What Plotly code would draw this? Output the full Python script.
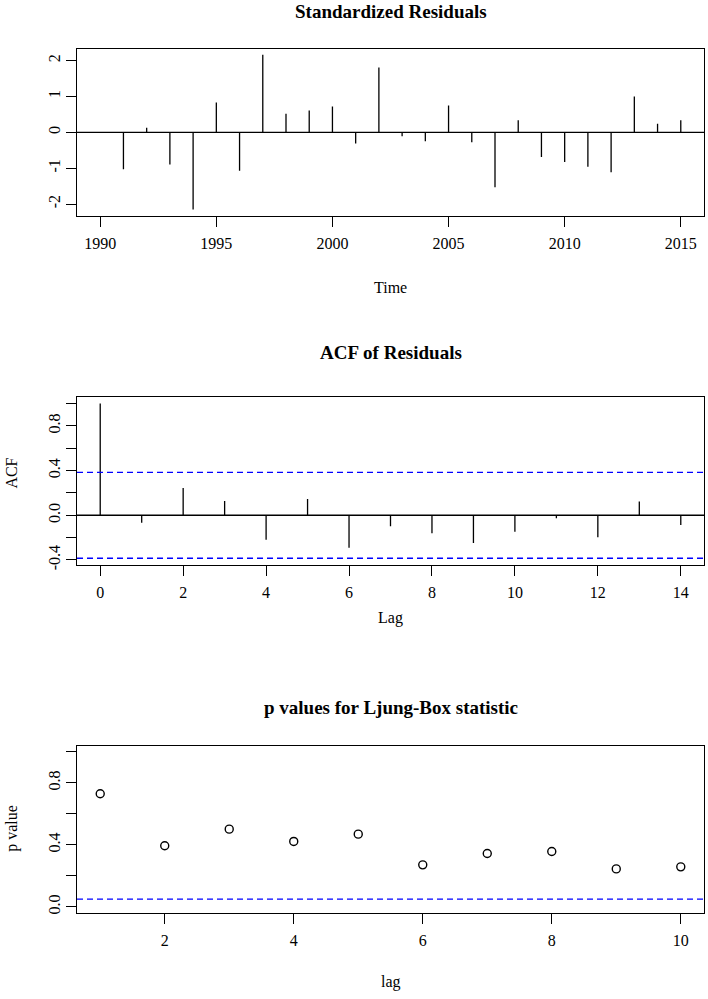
import numpy as np
import plotly.graph_objects as go

# ---------------- data ----------------
years = list(range(1990, 2016))
std_resid = [0.01, -1.03, 0.13, -0.90, -2.15, 0.83, -1.07, 2.16, 0.52, 0.61,
             0.72, -0.31, 1.81, -0.11, -0.25, 0.75, -0.28, -1.53, 0.34, -0.69,
             -0.83, -0.96, -1.11, 1.00, 0.24, 0.34]

acf_lags = list(range(0, 15))
acf_vals = [1.0, -0.068, 0.243, 0.127, -0.219, 0.145, -0.29, -0.098, -0.16,
            -0.249, -0.148, -0.027, -0.196, 0.124, -0.086]

lb_lags = list(range(1, 11))
lb_pvals = [0.729, 0.394, 0.501, 0.422, 0.469, 0.271, 0.344, 0.357, 0.245, 0.258]

n_obs = len(years)
clim = 1.96 / np.sqrt(n_obs)
p_thresh = 0.05

x_ticks_top = [1990, 1995, 2000, 2005, 2010, 2015]
y_ticks_top = [-2, -1, 0, 1, 2]
y_text_top = ["-2", "-1", "0", "1", "2"]
x_ticks_mid = [0, 2, 4, 6, 8, 10, 12, 14]
y_ticks_mid = [-0.4, -0.2, 0.0, 0.2, 0.4, 0.6, 0.8, 1.0]
y_text_mid = ["-0.4", "", "0.0", "", "0.4", "", "0.8", ""]
x_ticks_bot = [2, 4, 6, 8, 10]
y_ticks_bot = [0.0, 0.2, 0.4, 0.6, 0.8, 1.0]
y_text_bot = ["0.0", "", "0.4", "", "0.8", ""]

# ---------------- layout helpers ----------------
W, H = 708, 999
FONT = "Liberation Serif"
BLUE = "#0000FF"


def fy(px):
    return 1 - px / H


def fx(px):
    return px / W


def stems(xs, ys):
    X, Y = [], []
    for a, b in zip(xs, ys):
        X += [a, a, None]
        Y += [0, b, None]
    return X, Y


fig = go.Figure()

# top panel
sx, sy = stems(years, std_resid)
fig.add_trace(go.Scatter(x=sx, y=sy, mode="lines", line=dict(color="black", width=1.3),
                         xaxis="x", yaxis="y", showlegend=False, hoverinfo="skip"))
# middle panel
ax_, ay_ = stems(acf_lags, acf_vals)
fig.add_trace(go.Scatter(x=ax_, y=ay_, mode="lines", line=dict(color="black", width=1.3),
                         xaxis="x2", yaxis="y2", showlegend=False, hoverinfo="skip"))
# bottom panel
fig.add_trace(go.Scatter(x=lb_lags, y=lb_pvals, mode="markers",
                         marker=dict(symbol="circle-open", size=8, color="black",
                                     line=dict(width=1.4, color="black")),
                         xaxis="x3", yaxis="y3", showlegend=False))

axis_common = dict(showline=True, mirror=True, linecolor="black", linewidth=1,
                   ticks="outside", ticklen=10, tickwidth=1, tickcolor="black",
                   showgrid=False, zeroline=False,
                   tickfont=dict(family=FONT, size=16, color="black"))

xdom = [fx(77), fx(704)]
YSTAND = 0

fig.update_layout(
    width=W, height=H, margin=dict(l=0, r=0, t=0, b=0),
    paper_bgcolor="white", plot_bgcolor="white",
    xaxis=dict(domain=xdom, range=[1989, 2016], tickvals=x_ticks_top,
               anchor="y", ticklabelstandoff=3, **axis_common),
    yaxis=dict(domain=[fy(217), fy(49)], range=[-2.33, 2.33], tickvals=y_ticks_top,
               ticktext=y_text_top,
               tickangle=-90, anchor="x", ticklabelstandoff=YSTAND, **axis_common),
    xaxis2=dict(domain=xdom, range=[-0.56, 14.56], tickvals=x_ticks_mid,
                anchor="y2", ticklabelstandoff=3, **axis_common),
    yaxis2=dict(domain=[fy(567.7), fy(399.3)], range=[-0.4436, 1.0553],
                tickvals=y_ticks_mid, ticktext=y_text_mid,
                tickangle=-90, anchor="x2", ticklabelstandoff=YSTAND, **axis_common),
    xaxis3=dict(domain=xdom, range=[0.64, 10.36], tickvals=x_ticks_bot,
                anchor="y3", ticklabelstandoff=3, **axis_common),
    yaxis3=dict(domain=[fy(917.7), fy(749.3)], range=[-0.04, 1.04],
                tickvals=y_ticks_bot, ticktext=y_text_bot,
                tickangle=-90, anchor="x3", ticklabelstandoff=YSTAND, **axis_common),
)

shapes = [
    dict(type="line", xref="x domain", yref="y", x0=0, x1=1, y0=0, y1=0,
         line=dict(color="black", width=1.3)),
    dict(type="line", xref="x2 domain", yref="y2", x0=0, x1=1, y0=0, y1=0,
         line=dict(color="black", width=1.3)),
    dict(type="line", xref="x2 domain", yref="y2", x0=0, x1=1, y0=clim, y1=clim,
         line=dict(color=BLUE, width=1.3, dash="6px,4px")),
    dict(type="line", xref="x2 domain", yref="y2", x0=0, x1=1, y0=-clim, y1=-clim,
         line=dict(color=BLUE, width=1.3, dash="6px,4px")),
    dict(type="line", xref="x3 domain", yref="y3", x0=0, x1=1, y0=p_thresh, y1=p_thresh,
         line=dict(color=BLUE, width=1.3, dash="6px,4px")),
]
fig.update_layout(shapes=shapes)

cx = fx((77 + 704) / 2)
ann = []
for text, ypx in [("Standardized Residuals", 12), ("ACF of Residuals", 354),
                  ("p values for Ljung-Box statistic", 711)]:
    ann.append(dict(text=f"<b>{text}</b>", x=cx, y=fy(ypx), xref="paper", yref="paper",
                    xanchor="center", yanchor="middle", showarrow=False,
                    font=dict(family=FONT, size=19, color="black")))
for text, ypx in [("Time", 289), ("Lag", 621), ("lag", 987)]:
    ann.append(dict(text=text, x=cx, y=fy(ypx), xref="paper", yref="paper",
                    xanchor="center", yanchor="middle", showarrow=False,
                    font=dict(family=FONT, size=16, color="black")))
for text, ypx in [("ACF", 476), ("p value", 833)]:
    ann.append(dict(text=text, x=fx(12), y=fy(ypx), xref="paper", yref="paper",
                    xanchor="center", yanchor="middle", showarrow=False, textangle=-90,
                    font=dict(family=FONT, size=16, color="black")))
fig.update_layout(annotations=ann)

fig.write_html("out.html",
               config={"displayModeBar": False},
               post_script="document.body.style.margin='0';"
                           "document.body.style.overflow='hidden';")
